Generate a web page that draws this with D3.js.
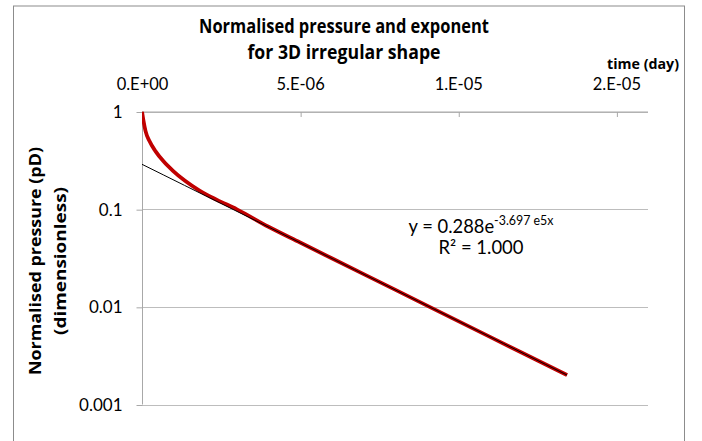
<!DOCTYPE html>
<html>
<head>
<meta charset="utf-8">
<script src="https://cdn.jsdelivr.net/npm/d3@7/dist/d3.min.js"></script>
<style>
  html, body { margin: 0; padding: 0; background: #fff; }
  svg { display: block; font-family: Lato, "Open Sans", "DejaVu Sans", sans-serif; }
  .bold { font-family: "Open Sans", Lato, sans-serif; font-weight: bold; }
</style>
</head>
<body>
<svg id="chart" width="702" height="441"></svg>
<script>
// Normalised pressure pD against time (days)
const timeDays = [0, 4.7e-8, 1.1e-7, 2.4e-7, 4.3e-7, 6.8e-7, 9.8e-7, 1.36e-6, 1.83e-6,
                  2.37e-6, 3.0e-6, 4.0e-6, 5.0e-6, 6.0e-6, 8.0e-6, 1.0e-5, 1.2e-5, 1.344e-5];
const pressure = [1, 0.803, 0.634, 0.495, 0.391, 0.309, 0.247, 0.195, 0.154,
                  0.1245, 0.0995, 0.0660, 0.0455, 0.0314, 0.0150, 0.00714, 0.00341, 0.00200];

// Exponential trendline y = a * e^(b x)
const fitA = 0.288;
const fitB = -3.697e5;
const fitR2 = "1.000";

const xTicks = [0, 5e-6, 1e-5, 1.5e-5];
const xTickLabels = ["0.E+00", "5.E-06", "1.E-05", "2.E-05"];
const yTicks = [1, 0.1, 0.01, 0.001];
const yTickLabels = ["1", "0.1", "0.01", "0.001"];

const svg = d3.select("#chart");
const W = 702, H = 441;
const plot = { left: 142, right: 648, top: 111.5, bottom: 404.5 };

// squeeze a text element to a set width, as a narrow face would set it
function setWidth(sel, w) {
  sel.attr("textLength", w).attr("lengthAdjust", "spacingAndGlyphs");
  return sel;
}

svg.append("rect").attr("width", W).attr("height", H).attr("fill", "#fff");

// chart frame
svg.append("rect")
  .attr("x", 13.5).attr("y", 6).attr("width", 671).attr("height", 450)
  .attr("fill", "none").attr("stroke", "#8c8c8c").attr("stroke-width", 1);

const x = d3.scaleLinear().domain([0, 1.6e-5]).range([plot.left, plot.right]);
const y = d3.scaleLog().domain([0.001, 1]).range([plot.bottom, plot.top]);

// horizontal gridlines
svg.append("g").selectAll("line").data(yTicks).join("line")
  .attr("x1", plot.left).attr("x2", plot.right)
  .attr("y1", d => Math.round(y(d)) + 0.5).attr("y2", d => Math.round(y(d)) + 0.5)
  .attr("stroke", "#bdbdbd").attr("stroke-width", 1);

// left value axis
const yAxis = d3.axisLeft(y).tickValues(yTicks)
  .tickFormat((d, i) => yTickLabels[i]).tickSize(6).tickPadding(14);
const gy = svg.append("g").attr("transform", `translate(${plot.left + 0.5},0)`).call(yAxis);
gy.select(".domain").attr("stroke", "#a8a8a8").attr("d", `M0,${plot.top}V${plot.bottom}`);
gy.selectAll(".tick line").attr("stroke", "#a8a8a8")
  .attr("transform", "translate(0,0.5)");
gy.selectAll(".tick text").attr("font-size", 17).attr("fill", "#000")
  .attr("font-family", "Lato, sans-serif").attr("dy", "0.36em");

// time axis along the top, ticks pointing into the plot
const xAxis = d3.axisTop(x).tickValues(xTicks)
  .tickFormat((d, i) => xTickLabels[i]).tickSizeInner(-5).tickSizeOuter(0).tickPadding(0);
const gx = svg.append("g").attr("transform", `translate(0,${plot.top})`).call(xAxis);
gx.select(".domain").attr("stroke", "#a8a8a8").attr("d", `M${plot.left},0.5H${plot.right}`);
gx.selectAll(".tick line").attr("stroke", "#a8a8a8").attr("transform", "translate(0.5,0.5)");
gx.selectAll(".tick text").attr("font-size", 16.5).attr("fill", "#000")
  .attr("font-family", "Lato, sans-serif").attr("y", -22).attr("dy", 0);

// clip to plot area
svg.append("clipPath").attr("id", "plotClip").append("rect")
  .attr("x", plot.left).attr("y", plot.top)
  .attr("width", plot.right - plot.left).attr("height", plot.bottom - plot.top);

const series = timeDays.map((t, i) => [t, pressure[i]]);
const line = d3.line().x(d => x(d[0])).y(d => y(d[1])).curve(d3.curveMonotoneX);

svg.append("path").datum(series)
  .attr("clip-path", "url(#plotClip)")
  .attr("fill", "none").attr("stroke", "#c00000").attr("stroke-width", 3.8)
  .attr("stroke-linejoin", "round").attr("d", line);

// trendline over the data range
const tEnd = timeDays[timeDays.length - 1];
const trend = d3.range(0, 21).map(k => {
  const t = tEnd * k / 20;
  return [t, fitA * Math.exp(fitB * t)];
});
svg.append("path").datum(trend)
  .attr("clip-path", "url(#plotClip)")
  .attr("fill", "none").attr("stroke", "#000").attr("stroke-width", 1)
  .attr("d", d3.line().x(d => x(d[0])).y(d => y(d[1])));

// trendline equation
const eq = svg.append("text").attr("x", 481).attr("y", 233)
  .attr("text-anchor", "middle").attr("font-size", 18.5).attr("fill", "#000");
eq.append("tspan").text(`y = ${fitA}e`);
eq.append("tspan").attr("font-size", 12.5).attr("dy", -8.5)
  .text(`${(fitB / 1e5).toFixed(3)} e5x`);
setWidth(eq, 145);
setWidth(svg.append("text").attr("x", 481).attr("y", 253.5)
  .attr("text-anchor", "middle").attr("font-size", 18.5).attr("fill", "#000")
  .text(`R² = ${fitR2}`), 85);

// chart title
const titleLines = ["Normalised pressure and exponent", "for 3D irregular shape"];
const titleWidths = [290, 193];
titleLines.forEach((s, i) => {
  setWidth(svg.append("text").attr("class", "bold").attr("x", 344).attr("y", 33 + i * 26)
    .attr("text-anchor", "middle").attr("font-size", 19)
    .attr("fill", "#000").text(s), titleWidths[i]);
});

// axis titles
setWidth(svg.append("text").attr("class", "bold").attr("x", 679).attr("y", 69)
  .attr("text-anchor", "end").attr("font-size", 13.5).attr("fill", "#000")
  .text("time (day)"), 72);

const yTitleLines = ["Normalised pressure (pD)", "(dimensionless)"];
const yTitleWidths = [228, 148];
yTitleLines.forEach((s, i) => {
  setWidth(svg.append("text").attr("class", "bold")
    .attr("transform", "translate(0,261) rotate(-90)")
    .attr("x", 0).attr("y", 41 + i * 25)
    .attr("text-anchor", "middle").attr("font-size", 16.5)
    .attr("fill", "#000").text(s), yTitleWidths[i]);
});
</script>
</body>
</html>
